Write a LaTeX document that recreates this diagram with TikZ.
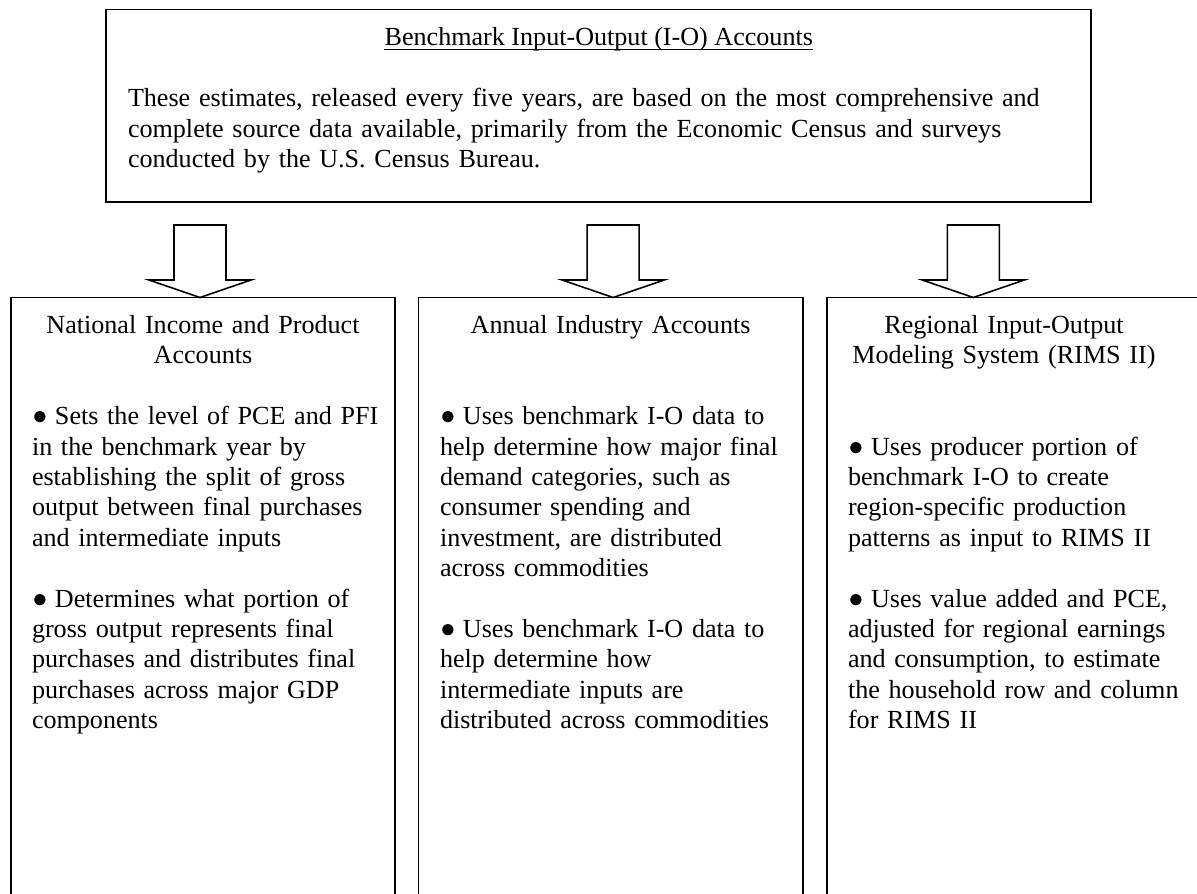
\documentclass[tikz,border=0pt]{standalone}
\usepackage{fontspec}
\setmainfont{Liberation Serif}
\newcommand{\bul}{\makebox[23pt][l]{●}}
\begin{document}
\begin{tikzpicture}[x=1pt,y=-1pt]
\tikzset{
  frame/.style={draw, rectangle, line width=1.6pt, outer sep=0pt, inner sep=0pt},
  bodyfont/.style={font=\fontsize{26.1pt}{30.4pt}\selectfont},
  txt/.style={bodyfont, inner sep=0pt, outer sep=0pt, anchor=base west, text width=430pt, align=left},
  ttl/.style={bodyfont, inner sep=0pt, outer sep=0pt, anchor=base, text width=370pt, align=center},
  blockarrow/.style={draw, line width=1.6pt, fill=white, line join=miter},
}
\useasboundingbox (0,0) rectangle (1197,894);
\fill[white] (0,0) rectangle (1197,894);
\clip (0,0) rectangle (1197,894);

% top box
\node[frame, anchor=north west, minimum width=985pt, minimum height=192.4pt] (bench) at (106,9.3) {};
\node[bodyfont, inner sep=0pt, anchor=base] (title) at (598.8,45.5) {Benchmark Input-Output (I-O) Accounts};
\draw[line width=1.3pt] ([yshift=-4.3pt]title.base west) -- ([yshift=-4.3pt]title.base east);
\node[txt, text width=960pt] (benchtxt) at (128,106.8) {These estimates, released every five years, are based on the most comprehensive and\\
complete source data available, primarily from the Economic Census and surveys\\
conducted by the U.S. Census Bureau.};

% bottom boxes
\node[frame, anchor=north west, minimum width=384pt, minimum height=620pt] (nipa) at (11,297.5) {};
\node[frame, anchor=north west, minimum width=384.7pt, minimum height=620pt] (iea) at (418.3,297.5) {};
\node[frame, anchor=north west, minimum width=390pt, minimum height=620pt] (rims) at (826.7,297.5) {};

% block arrows
\coordinate (tip1) at ([xshift=-3pt]nipa.north);
\coordinate (tip2) at ([xshift=2.5pt]iea.north);
\coordinate (tip3) at ([xshift=-48.4pt]rims.north);
\foreach \t in {tip1,tip2,tip3}{
  \draw[blockarrow] (\t) -- ++(-51,-17.5) -- ++(25,0) -- ++(0,-55) -- ++(52,0) -- ++(0,55) -- ++(25,0) -- cycle;
}

% box 1
\node[ttl] (nipattl) at (203,333.5) {National Income and Product\\Accounts};
\node[txt] (nipab1) at (32,424.7) {\bul Sets the level of PCE and PFI\\
in the benchmark year by\\
establishing the split of gross\\
output between final purchases\\
and intermediate inputs};
\node[txt] (nipab2) at (32,607.1) {\bul Determines what portion of\\
gross output represents final\\
purchases and distributes final\\
purchases across major GDP\\
components};

% box 2
\node[ttl] (ieattl) at (610.6,333.5) {Annual Industry Accounts};
\node[txt] (ieab1) at (440,424.7) {\bul Uses benchmark I-O data to\\
help determine how major final\\
demand categories, such as\\
consumer spending and\\
investment, are distributed\\
across commodities};
\node[txt] (ieab2) at (440,637.5) {\bul Uses benchmark I-O data to\\
help determine how\\
intermediate inputs are\\
distributed across commodities};

% box 3
\node[ttl] (rimsttl) at (1004,333.5) {Regional Input-Output\\Modeling System (RIMS II)};
\node[txt] (rimsb1) at (848,455.1) {\bul Uses producer portion of\\
benchmark I-O to create\\
region-specific production\\
patterns as input to RIMS II};
\node[txt] (rimsb2) at (848,607.1) {\bul Uses value added and PCE,\\
adjusted for regional earnings\\
and consumption, to estimate\\
the household row and column\\
for RIMS II};
\end{tikzpicture}
\end{document}
